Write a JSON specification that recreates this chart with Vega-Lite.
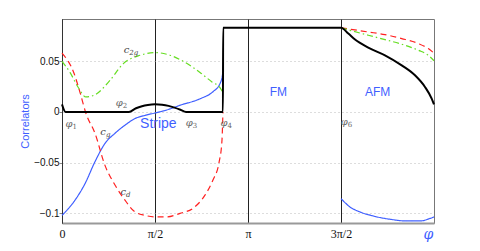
{
  "$schema": "https://vega.github.io/schema/vega-lite/v6.json",
  "width": 372,
  "height": 204,
  "autosize": "none",
  "padding": {"left": 62, "top": 19, "right": 46, "bottom": 28},
  "config": {"view": {"stroke": "#777", "strokeWidth": 1}, "font": "Liberation Sans"},
  "datasets": {
    "curves": [
      {"s": "cg", "seg": "a", "x": 0, "y": -0.102},
      {"s": "cg", "seg": "a", "x": 0.2196, "y": -0.087},
      {"s": "cg", "seg": "a", "x": 0.3885, "y": -0.0707},
      {"s": "cg", "seg": "a", "x": 0.5574, "y": -0.049},
      {"s": "cg", "seg": "a", "x": 0.7263, "y": -0.031},
      {"s": "cg", "seg": "a", "x": 0.8952, "y": -0.021},
      {"s": "cg", "seg": "a", "x": 1.064, "y": -0.013},
      {"s": "cg", "seg": "a", "x": 1.233, "y": -0.0065},
      {"s": "cg", "seg": "a", "x": 1.402, "y": -0.0033},
      {"s": "cg", "seg": "a", "x": 1.571, "y": -0.001},
      {"s": "cg", "seg": "a", "x": 1.824, "y": 0.003},
      {"s": "cg", "seg": "a", "x": 1.993, "y": 0.0066},
      {"s": "cg", "seg": "a", "x": 2.331, "y": 0.013},
      {"s": "cg", "seg": "a", "x": 2.55, "y": 0.02},
      {"s": "cg", "seg": "a", "x": 2.669, "y": 0.028},
      {"s": "cg", "seg": "a", "x": 2.714, "y": 0.038},
      {"s": "cg", "seg": "a", "x": 2.72, "y": 0.046},
      {"s": "cg", "seg": "b", "x": 4.7124, "y": -0.0854},
      {"s": "cg", "seg": "b", "x": 4.864, "y": -0.0937},
      {"s": "cg", "seg": "b", "x": 5.033, "y": -0.0986},
      {"s": "cg", "seg": "b", "x": 5.258, "y": -0.1026},
      {"s": "cg", "seg": "b", "x": 5.54, "y": -0.1058},
      {"s": "cg", "seg": "b", "x": 5.822, "y": -0.1075},
      {"s": "cg", "seg": "b", "x": 6.047, "y": -0.1075},
      {"s": "cg", "seg": "b", "x": 6.216, "y": -0.105},
      {"s": "cg", "seg": "b", "x": 6.2832, "y": -0.1035},
      {"s": "cd", "seg": "a", "x": 0, "y": 0.058},
      {"s": "cd", "seg": "a", "x": 0.2027, "y": 0.0382},
      {"s": "cd", "seg": "a", "x": 0.304, "y": 0.0194},
      {"s": "cd", "seg": "a", "x": 0.405, "y": -0.0015},
      {"s": "cd", "seg": "a", "x": 0.557, "y": -0.021},
      {"s": "cd", "seg": "a", "x": 0.726, "y": -0.0527},
      {"s": "cd", "seg": "a", "x": 0.895, "y": -0.072},
      {"s": "cd", "seg": "a", "x": 1.064, "y": -0.087},
      {"s": "cd", "seg": "a", "x": 1.233, "y": -0.0986},
      {"s": "cd", "seg": "a", "x": 1.402, "y": -0.102},
      {"s": "cd", "seg": "a", "x": 1.571, "y": -0.1035},
      {"s": "cd", "seg": "a", "x": 1.773, "y": -0.1035},
      {"s": "cd", "seg": "a", "x": 1.993, "y": -0.1},
      {"s": "cd", "seg": "a", "x": 2.213, "y": -0.095},
      {"s": "cd", "seg": "a", "x": 2.415, "y": -0.082},
      {"s": "cd", "seg": "a", "x": 2.55, "y": -0.067},
      {"s": "cd", "seg": "a", "x": 2.652, "y": -0.05},
      {"s": "cd", "seg": "a", "x": 2.702, "y": -0.028},
      {"s": "cd", "seg": "a", "x": 2.718, "y": 0.0},
      {"s": "cd", "seg": "b", "x": 4.7124, "y": 0.083},
      {"s": "cd", "seg": "b", "x": 5.173, "y": 0.0789},
      {"s": "cd", "seg": "b", "x": 5.455, "y": 0.0763},
      {"s": "cd", "seg": "b", "x": 5.738, "y": 0.0724},
      {"s": "cd", "seg": "b", "x": 6.018, "y": 0.0675},
      {"s": "cd", "seg": "b", "x": 6.187, "y": 0.0625},
      {"s": "cd", "seg": "b", "x": 6.2832, "y": 0.058},
      {"s": "c2g", "seg": "a", "x": 0, "y": 0.05},
      {"s": "c2g", "seg": "a", "x": 0.135, "y": 0.039},
      {"s": "c2g", "seg": "a", "x": 0.27, "y": 0.0246},
      {"s": "c2g", "seg": "a", "x": 0.405, "y": 0.0148},
      {"s": "c2g", "seg": "a", "x": 0.557, "y": 0.017},
      {"s": "c2g", "seg": "a", "x": 0.811, "y": 0.0312},
      {"s": "c2g", "seg": "a", "x": 1.036, "y": 0.0477},
      {"s": "c2g", "seg": "a", "x": 1.317, "y": 0.0559},
      {"s": "c2g", "seg": "a", "x": 1.571, "y": 0.0586},
      {"s": "c2g", "seg": "a", "x": 1.824, "y": 0.056},
      {"s": "c2g", "seg": "a", "x": 2.077, "y": 0.049},
      {"s": "c2g", "seg": "a", "x": 2.331, "y": 0.039},
      {"s": "c2g", "seg": "a", "x": 2.533, "y": 0.0296},
      {"s": "c2g", "seg": "a", "x": 2.669, "y": 0.024},
      {"s": "c2g", "seg": "a", "x": 2.714, "y": 0.0197},
      {"s": "c2g", "seg": "b", "x": 4.7124, "y": 0.083},
      {"s": "c2g", "seg": "b", "x": 5.173, "y": 0.0757},
      {"s": "c2g", "seg": "b", "x": 5.455, "y": 0.0714},
      {"s": "c2g", "seg": "b", "x": 5.738, "y": 0.0668},
      {"s": "c2g", "seg": "b", "x": 6.018, "y": 0.0609},
      {"s": "c2g", "seg": "b", "x": 6.187, "y": 0.0559},
      {"s": "c2g", "seg": "b", "x": 6.2832, "y": 0.0505}
    ],
    "order": [
      {"x": 0, "y": 0.0075},
      {"x": 0.06, "y": 0},
      {"x": 1.13, "y": 0},
      {"x": 1.25, "y": 0.0037},
      {"x": 1.35, "y": 0.0057},
      {"x": 1.45, "y": 0.0069},
      {"x": 1.571, "y": 0.0075},
      {"x": 1.69, "y": 0.0071},
      {"x": 1.8, "y": 0.006},
      {"x": 1.9, "y": 0.0043},
      {"x": 2.0, "y": 0.0022},
      {"x": 2.095, "y": 0},
      {"x": 2.718, "y": 0},
      {"x": 2.722, "y": 0.083},
      {"x": 4.7124, "y": 0.083},
      {"x": 4.836, "y": 0.0773},
      {"x": 4.949, "y": 0.0714},
      {"x": 5.173, "y": 0.0635},
      {"x": 5.455, "y": 0.0559},
      {"x": 5.738, "y": 0.046},
      {"x": 5.962, "y": 0.0362},
      {"x": 6.131, "y": 0.0247},
      {"x": 6.244, "y": 0.0132},
      {"x": 6.2832, "y": 0.0075}
    ],
    "labels": [
      {"kind": "phi", "main": "φ", "sub": "1", "x": 0.16, "y": -0.0114},
      {"kind": "phi", "main": "φ", "sub": "2", "x": 1.01, "y": 0.0089},
      {"kind": "phi", "main": "φ", "sub": "3", "x": 2.19, "y": -0.011},
      {"kind": "phi", "main": "φ", "sub": "4", "x": 2.78, "y": -0.011},
      {"kind": "phi", "main": "φ", "sub": "6", "x": 4.81, "y": -0.0099},
      {"kind": "c", "main": "c", "sub": "2g", "x": 1.12, "y": 0.061},
      {"kind": "c", "main": "c", "sub": "g", "x": 0.726, "y": -0.0197},
      {"kind": "c", "main": "c", "sub": "d", "x": 1.064, "y": -0.0789}
    ],
    "regions": [
      {"name": "Stripe", "big": true, "x": 1.627, "y": -0.0114},
      {"name": "FM", "big": false, "x": 3.654, "y": 0.0197},
      {"name": "AFM", "big": false, "x": 5.33, "y": 0.0197}
    ]
  },
  "layer": [
    {
      "data": {"name": "curves"},
      "mark": {"type": "line", "strokeWidth": 1.2, "interpolate": "monotone"},
      "encoding": {
        "x": {
          "field": "x", "type": "quantitative",
          "scale": {"domain": [0, 6.2832], "nice": false, "zero": false},
          "axis": {
            "values": [0, 1.5708, 3.1416, 4.7124],
            "labelExpr": "datum.value < 0.1 ? '0' : datum.value < 2 ? 'π/2' : datum.value < 4 ? 'π' : '3π/2'",
            "labelFont": "Liberation Serif", "labelFontSize": 12, "labelColor": "#111",
            "labelPadding": 5, "labelFlush": false,
            "grid": true, "gridColor": "#222", "gridWidth": 1, "gridOpacity": 1,
            "ticks": false, "domainColor": "#999", "domainWidth": 2,
            "title": "φ", "titleFont": "DejaVu Serif", "titleFontStyle": "italic",
            "titleFontWeight": "normal", "titleColor": "#3f5fff", "titleFontSize": 14,
            "titleX": 366, "titleY": 11, "titleBaseline": "middle", "titleAlign": "center"
          }
        },
        "y": {
          "field": "y", "type": "quantitative",
          "scale": {"domain": [-0.1095, 0.0917], "nice": false, "zero": false},
          "axis": {
            "values": [-0.1, -0.05, 0, 0.05],
            "format": ".2~f",
            "labelFont": "Liberation Sans", "labelFontSize": 10, "labelColor": "#111",
            "labelPadding": 0, "tickSize": 3, "tickColor": "#888",
            "grid": true, "gridColor": "#bbb", "gridDash": [1, 3], "gridWidth": 1,
            "domainColor": "#333",
            "title": "Correlators", "titleColor": "#3f5fff", "titleFontSize": 11,
            "titleFontWeight": "normal", "titleFont": "Liberation Sans",
            "titleX": -37, "titleY": 102, "titleBaseline": "middle", "titleAlign": "center", "titleAngle": -90
          }
        },
        "color": {
          "field": "s", "type": "nominal", "legend": null,
          "scale": {"domain": ["cg", "cd", "c2g"], "range": ["#3f5fff", "#ff2020", "#66dd22"]}
        },
        "strokeDash": {
          "field": "s", "type": "nominal", "legend": null,
          "scale": {"domain": ["cg", "cd", "c2g"], "range": [[1, 0], [6, 4], [6, 3, 1.5, 3]]}
        },
        "detail": {"field": "seg"}
      }
    },
    {
      "mark": {"type": "rule", "color": "black", "strokeWidth": 2.5},
      "encoding": {"y": {"datum": 0}}
    },
    {
      "data": {"name": "order"},
      "mark": {"type": "line", "color": "black", "strokeWidth": 2, "interpolate": "monotone"},
      "encoding": {
        "x": {"field": "x", "type": "quantitative"},
        "y": {"field": "y", "type": "quantitative"}
      }
    },
    {
      "data": {"name": "labels"},
      "transform": [{"filter": "datum.kind == 'phi'"}],
      "mark": {"type": "text", "font": "DejaVu Serif", "fontStyle": "italic", "fontSize": 10, "align": "right", "dx": 1, "baseline": "middle", "color": "#666"},
      "encoding": {
        "x": {"field": "x", "type": "quantitative"},
        "y": {"field": "y", "type": "quantitative"},
        "text": {"field": "main"}
      }
    },
    {
      "data": {"name": "labels"},
      "transform": [{"filter": "datum.kind == 'phi'"}],
      "mark": {"type": "text", "font": "DejaVu Serif", "fontSize": 7, "align": "left", "dx": 1, "dy": 3, "baseline": "middle", "color": "#666"},
      "encoding": {
        "x": {"field": "x", "type": "quantitative"},
        "y": {"field": "y", "type": "quantitative"},
        "text": {"field": "sub"}
      }
    },
    {
      "data": {"name": "labels"},
      "transform": [{"filter": "datum.kind == 'c'"}],
      "mark": {"type": "text", "font": "DejaVu Serif", "fontStyle": "italic", "fontSize": 10, "align": "right", "dx": 1, "baseline": "middle", "color": "#444"},
      "encoding": {
        "x": {"field": "x", "type": "quantitative"},
        "y": {"field": "y", "type": "quantitative"},
        "text": {"field": "main"}
      }
    },
    {
      "data": {"name": "labels"},
      "transform": [{"filter": "datum.kind == 'c'"}],
      "mark": {"type": "text", "font": "DejaVu Serif", "fontStyle": "italic", "fontSize": 7, "align": "left", "dx": 1, "dy": 3, "baseline": "middle", "color": "#444"},
      "encoding": {
        "x": {"field": "x", "type": "quantitative"},
        "y": {"field": "y", "type": "quantitative"},
        "text": {"field": "sub"}
      }
    },
    {
      "data": {"name": "regions"},
      "transform": [{"filter": "datum.big"}],
      "mark": {"type": "text", "font": "Liberation Sans", "fontSize": 14, "color": "#3f5fff", "baseline": "middle"},
      "encoding": {
        "x": {"field": "x", "type": "quantitative"},
        "y": {"field": "y", "type": "quantitative"},
        "text": {"field": "name"}
      }
    },
    {
      "data": {"name": "regions"},
      "transform": [{"filter": "!datum.big"}],
      "mark": {"type": "text", "font": "Liberation Sans", "fontSize": 12, "color": "#3f5fff", "baseline": "middle"},
      "encoding": {
        "x": {"field": "x", "type": "quantitative"},
        "y": {"field": "y", "type": "quantitative"},
        "text": {"field": "name"}
      }
    }
  ]
}
